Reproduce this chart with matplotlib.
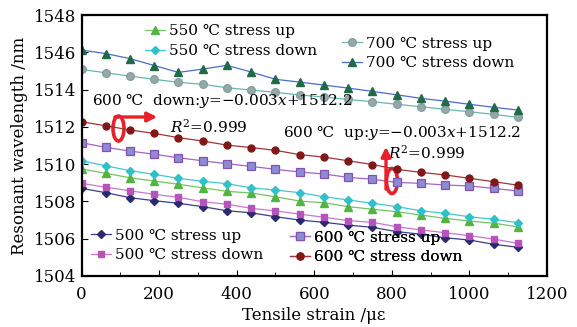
import matplotlib
matplotlib.use('Agg')
import matplotlib.pyplot as plt
from matplotlib.patches import Ellipse
import numpy as np

plt.rcParams['font.family'] = ['DejaVu Serif', 'DejaVu Sans']
plt.rcParams['mathtext.fontset'] = 'dejavuserif'

# tensile strain (micro-strain)
strain = [0, 62.5, 125, 187.5, 250, 312.5, 375, 437.5, 500, 562.5,
          625, 687.5, 750, 812.5, 875, 937.5, 1000, 1062.5, 1125]

# resonant wavelength (nm)
up_500 = [1508.70, 1508.47, 1508.20, 1508.04, 1507.90, 1507.72, 1507.50, 1507.39, 1507.18, 1507.00,
          1506.88, 1506.73, 1506.61, 1506.38, 1506.24, 1506.05, 1505.93, 1505.70, 1505.54]
down_500 = [1508.97, 1508.76, 1508.57, 1508.38, 1508.22, 1507.98, 1507.85, 1507.63, 1507.49, 1507.32,
            1507.15, 1506.97, 1506.88, 1506.64, 1506.47, 1506.32, 1506.16, 1505.98, 1505.75]
up_550 = [1509.74, 1509.51, 1509.27, 1509.09, 1508.92, 1508.73, 1508.54, 1508.45, 1508.25, 1508.02,
          1507.93, 1507.72, 1507.58, 1507.45, 1507.27, 1507.09, 1506.95, 1506.83, 1506.64]
down_550 = [1510.18, 1509.91, 1509.65, 1509.45, 1509.24, 1509.08, 1508.95, 1508.73, 1508.61, 1508.47,
            1508.25, 1508.08, 1507.90, 1507.72, 1507.50, 1507.36, 1507.18, 1507.04, 1506.86]
up_600 = [1511.15, 1510.90, 1510.70, 1510.53, 1510.34, 1510.18, 1510.02, 1509.88, 1509.72, 1509.58,
          1509.47, 1509.29, 1509.19, 1509.02, 1508.97, 1508.88, 1508.83, 1508.70, 1508.56]
down_600 = [1512.27, 1512.06, 1511.83, 1511.65, 1511.42, 1511.24, 1511.02, 1510.89, 1510.74, 1510.51,
            1510.38, 1510.18, 1509.98, 1509.72, 1509.56, 1509.42, 1509.24, 1509.06, 1508.87]
up_700 = [1545.08, 1544.90, 1544.72, 1544.55, 1544.39, 1544.28, 1544.10, 1543.97, 1543.85, 1543.71,
          1543.60, 1543.47, 1543.35, 1543.21, 1543.08, 1542.94, 1542.81, 1542.67, 1542.51]
down_700 = [1546.12, 1545.93, 1545.66, 1545.29, 1544.92, 1545.10, 1545.30, 1544.94, 1544.55, 1544.40,
            1544.24, 1544.08, 1543.90, 1543.72, 1543.53, 1543.38, 1543.21, 1543.05, 1542.90]

ytick_vals = [1504, 1506, 1508, 1510, 1512, 1514, 1546, 1548]
xtick_vals = [0, 200, 400, 600, 800, 1000, 1200]

GAP = 30  # broken axis: 1546 is drawn where 1516 would be


def brk(v):
    v = np.asarray(v, dtype=float)
    return np.where(v > 1530, v - GAP, v)


fig = plt.figure(figsize=(5.77, 3.27), dpi=100)
L, R, B, T = 81.5, 547, 276, 15
ax = fig.add_axes([L / 577, 1 - B / 327, (R - L) / 577, (B - T) / 327])


def afr(px, py):
    return ((px - L) / (R - L), (B - py) / (B - T))


FS = 11
x = np.array(strain)
h500u, = ax.plot(x, brk(up_500), '-', color='#3c3c8c', lw=0.9, marker='D', ms=3.8,
                 mfc='#2a2a70', mec='#2a2a70', label='500 ℃ stress up')
h500d, = ax.plot(x, brk(down_500), '-', color='#c878cc', lw=0.9, marker='s', ms=5,
                 mfc='#b454bc', mec='#b454bc', label='500 ℃ stress down')
h550u, = ax.plot(x, brk(up_550), '-', color='#74c464', lw=0.9, marker='^', ms=5.5,
                 mfc='#52b442', mec='#52b442', label='550 ℃ stress up')
h550d, = ax.plot(x, brk(down_550), '-', color='#44c8d0', lw=0.9, marker='D', ms=3.8,
                 mfc='#30c0c8', mec='#30c0c8', label='550 ℃ stress down')
h600u, = ax.plot(x, brk(up_600), '-', color='#a464c4', lw=0.9, marker='s', ms=5.5,
                 mfc='#8c8cd2', mec='#8450b4', mew=0.9, label='600 ℃ stress up')
h600d, = ax.plot(x, brk(down_600), '-', color='#a43434', lw=0.9, marker='o', ms=5,
                 mfc='#801818', mec='#801818', label='600 ℃ stress down')
h700u, = ax.plot(x, brk(up_700), '-', color='#64b8b0', lw=0.9, marker='o', ms=5.5,
                 mfc='#98a8a8', mec='#84a0a0', label='700 ℃ stress up')
h700d, = ax.plot(x, brk(down_700), '-', color='#4a6ccc', lw=0.9, marker='^', ms=5.5,
                 mfc='#206a4a', mec='#206a4a', label='700 ℃ stress down')

ax.set_xlim(0, 1200)
ax.set_ylim(1504, 1518)
ax.set_xticks(xtick_vals)
ax.set_xticks(np.arange(100, 1200, 200), minor=True)
ax.set_yticks(brk(ytick_vals))
ax.set_yticklabels([str(v) for v in ytick_vals])
ax.tick_params(axis='both', which='both', direction='in', labelsize=12)
ax.tick_params(axis='x', which='major', length=4, pad=7)
ax.tick_params(axis='x', which='minor', length=3)
ax.tick_params(axis='y', length=4, pad=4)
for s in ax.spines.values():
    s.set_linewidth(1.6)
ax.set_xlabel('Tensile strain /με', fontsize=12, labelpad=3)
ax.set_ylabel('Resonant wavelength /nm', fontsize=12, labelpad=4)

leg_kw = dict(frameon=False, fontsize=FS, handlelength=1.3, handletextpad=0.25,
              labelspacing=0.38, borderpad=0, borderaxespad=0, loc='center left')


def legend(handles, px, py):
    lg = ax.legend(handles=handles, bbox_to_anchor=afr(px, py),
                   bbox_transform=ax.transAxes, **leg_kw)
    ax.add_artist(lg)


legend([h550u, h550d], 145, 41)
legend([h700u, h700d], 342, 53.5)
legend([h500u, h500d], 91, 245.5)
legend([h600u, h600d], 290, 247.5)

txt_kw = dict(transform=ax.transAxes, fontsize=FS, va='center', ha='left')
ax.text(*afr(92, 101), '600 ℃  down:$y$=−0.003$x$+1512.2', **txt_kw)
ax.text(*afr(170, 127), '$R^2$=0.999', **txt_kw)
ax.text(*afr(283, 132), '600 ℃  up:$y$=−0.003$x$+1512.2', **txt_kw)
ax.text(*afr(388, 153), '$R^2$=0.999', **txt_kw)

# red marks
red = '#e8202a'
for cx, cy in [(118.5, 128.5), (392, 181)]:
    ax.add_patch(Ellipse(afr(cx, cy), 11 / (R - L), 25 / (B - T), transform=ax.transAxes,
                         fill=False, ec=red, lw=2.6))
ax.annotate('', xy=afr(160, 117), xytext=afr(112, 117), xycoords='axes fraction',
            arrowprops=dict(arrowstyle='-|>', color=red, lw=2.4, mutation_scale=14))
ax.annotate('', xy=afr(386, 144), xytext=afr(386, 192), xycoords='axes fraction',
            arrowprops=dict(arrowstyle='-|>', color=red, lw=2.4, mutation_scale=14))

fig.savefig('out.png', dpi=100)
